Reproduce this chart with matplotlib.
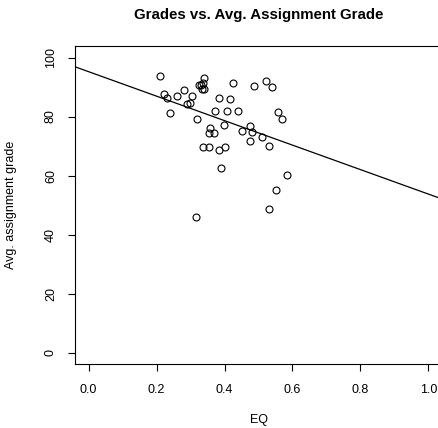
import numpy as np
import matplotlib
matplotlib.use("Agg")
import matplotlib.pyplot as plt

plt.rcParams['font.family'] = ['Liberation Sans', 'DejaVu Sans']

# EQ score and average assignment grade per student
eq = [0.211, 0.221, 0.231, 0.240, 0.260, 0.282, 0.304, 0.291, 0.299, 0.320,
      0.326, 0.331, 0.340, 0.334, 0.341, 0.336, 0.385, 0.415, 0.426, 0.373,
      0.408, 0.441, 0.358, 0.353, 0.368, 0.397, 0.337, 0.353, 0.385, 0.402,
      0.390, 0.317, 0.451, 0.476, 0.481, 0.474, 0.510, 0.532, 0.487, 0.521,
      0.539, 0.557, 0.569, 0.584, 0.550, 0.531]
grade = [93.6, 87.6, 86.4, 81.1, 87.0, 88.9, 86.9, 84.3, 84.7, 79.1,
         90.6, 90.7, 92.9, 89.3, 89.3, 91.4, 86.4, 85.8, 91.3, 81.8,
         81.9, 81.8, 76.0, 74.3, 74.3, 77.1, 69.6, 69.6, 68.7, 69.6,
         62.6, 45.8, 75.1, 76.8, 74.9, 71.7, 73.0, 70.0, 90.3, 92.2,
         90.0, 81.4, 79.1, 60.1, 55.1, 48.7]

# fitted regression line
intercept = 95.2
slope = -41.5

xticks = [0.0, 0.2, 0.4, 0.6, 0.8, 1.0]
yticks = [0, 20, 40, 60, 80, 100]

fig = plt.figure(figsize=(4.38, 4.28), dpi=100)
ax = fig.add_axes([0.1712, 0.1488, 0.838, 0.7444])

ax.plot(eq, grade, 'o', mfc='none', mec='black', ms=5, mew=0.8)

xs = np.array([-0.1, 1.2])
ax.plot(xs, intercept + slope * xs, color='black', lw=0.9)

ax.set_xlim(-0.04, 1.04)
ax.set_ylim(-4, 104)
ax.set_xticks(xticks)
ax.set_xticklabels(["%.1f" % t for t in xticks])
ax.set_yticks(yticks)
ax.set_yticklabels([str(t) for t in yticks], rotation=90, va='center')
ax.tick_params(direction='out', length=5, width=0.8, labelsize=9)
ax.tick_params(axis='x', pad=9)
ax.tick_params(axis='y', pad=8)

for s in ax.spines.values():
    s.set_linewidth(0.8)

ax.set_xlabel("EQ", fontsize=9, labelpad=13)
ax.set_ylabel("Avg. assignment grade", fontsize=9, labelpad=20)
ax.set_title("Grades vs. Avg. Assignment Grade", fontsize=10.8,
             fontweight='bold', pad=19)

fig.savefig("out.png", dpi=100)
